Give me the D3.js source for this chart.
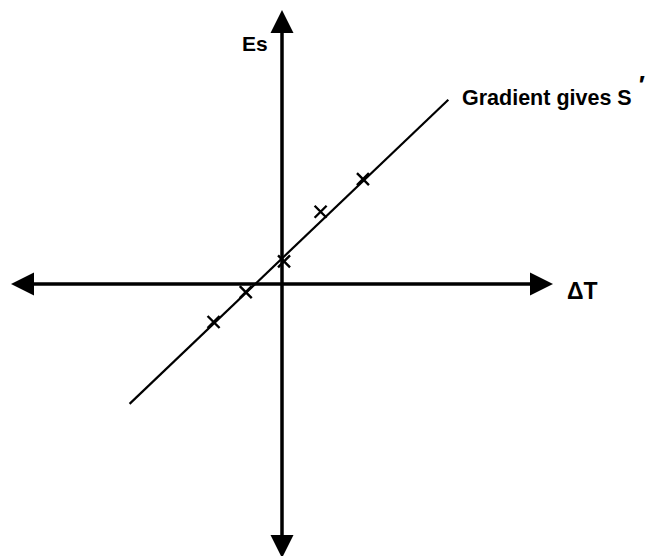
<!DOCTYPE html>
<html>
<head>
<meta charset="utf-8">
<script src="https://cdn.jsdelivr.net/npm/d3@7"></script>
<style>
  html, body { margin: 0; padding: 0; background: #fff; }
  svg { display: block; }
  text { font-family: "Liberation Sans", Arial, sans-serif; fill: #000; font-weight: bold; }
</style>
</head>
<body>
<svg id="chart" width="647" height="556"></svg>
<script>
// Measured thermoelectric voltage Es against temperature difference ΔT
const deltaT = [-2.02, -1.07, 0.06, 1.14, 2.39];
const es     = [-1.11, -0.24, 0.66, 2.11, 3.06];

// End points of the best-fit line (its gradient gives S′)
const fitX = [-4.5, 4.91];
const fitY = [-3.5, 5.38];

// Axis extents and labels
const axisDomain = [-8, 8];
const xLabel = "ΔT";
const yLabel = "Es";
const fitLabel = "Gradient gives S";
const fitLabelMark = "′";

const svg = d3.select("#chart");

const x = d3.scaleLinear().domain(axisDomain).range([11, 553]);
const y = d3.scaleLinear().domain(axisDomain).range([558, 10]);

const head = 23;     // arrowhead length
const halfW = 11.5;  // arrowhead half width

// Horizontal axis (ΔT) through Es = 0
svg.append("line")
  .attr("x1", x(axisDomain[0]) + head - 2).attr("x2", x(axisDomain[1]) - head + 2)
  .attr("y1", y(0)).attr("y2", y(0))
  .attr("stroke", "#000").attr("stroke-width", 3.5);

// Vertical axis (Es) through ΔT = 0
svg.append("line")
  .attr("x1", x(0)).attr("x2", x(0))
  .attr("y1", y(axisDomain[1]) + head - 2).attr("y2", y(axisDomain[0]) - head + 2)
  .attr("stroke", "#000").attr("stroke-width", 3.5);

// Arrowheads at both ends of each axis
const arrows = [
  { tx: x(axisDomain[0]), ty: y(0), dx: 1, dy: 0 },
  { tx: x(axisDomain[1]), ty: y(0), dx: -1, dy: 0 },
  { tx: x(0), ty: y(axisDomain[1]), dx: 0, dy: 1 },
  { tx: x(0), ty: y(axisDomain[0]), dx: 0, dy: -1 }
];
svg.selectAll("path.arrow")
  .data(arrows)
  .join("path")
  .attr("class", "arrow")
  .attr("d", a => {
    const bx = a.tx + a.dx * head, by = a.ty + a.dy * head;
    const px = -a.dy * halfW, py = a.dx * halfW;
    return d3.line()([[a.tx, a.ty], [bx + px, by + py], [bx - px, by - py]]) + "Z";
  })
  .attr("fill", "#000");

// Best-fit line
svg.append("path")
  .datum(fitX.map((v, i) => [v, fitY[i]]))
  .attr("d", d3.line().x(d => x(d[0])).y(d => y(d[1])))
  .attr("fill", "none")
  .attr("stroke", "#000")
  .attr("stroke-width", 2.2);

// Data points drawn as crosses
const arm = 6;
const pts = svg.selectAll("g.pt")
  .data(deltaT.map((v, i) => ({ t: v, e: es[i] })))
  .join("g")
  .attr("class", "pt")
  .attr("transform", d => `translate(${x(d.t)},${y(d.e)})`);
pts.append("path")
  .attr("d", `M${-arm},${-arm}L${arm},${arm}M${-arm},${arm}L${arm},${-arm}`)
  .attr("stroke", "#000")
  .attr("stroke-width", 2.4)
  .attr("fill", "none");

// Labels
svg.append("text")
  .attr("x", 242).attr("y", 51)
  .attr("font-size", 21)
  .text(yLabel);

svg.append("text")
  .attr("x", 567).attr("y", 299)
  .attr("font-size", 23)
  .text(xLabel);

const fit = svg.append("text")
  .attr("x", 462).attr("y", 105)
  .attr("font-size", 21.5)
  .text(fitLabel);
fit.append("tspan")
  .attr("dx", 7).attr("dy", -11)
  .attr("font-size", 26)
  .text(fitLabelMark);
</script>
</body>
</html>
